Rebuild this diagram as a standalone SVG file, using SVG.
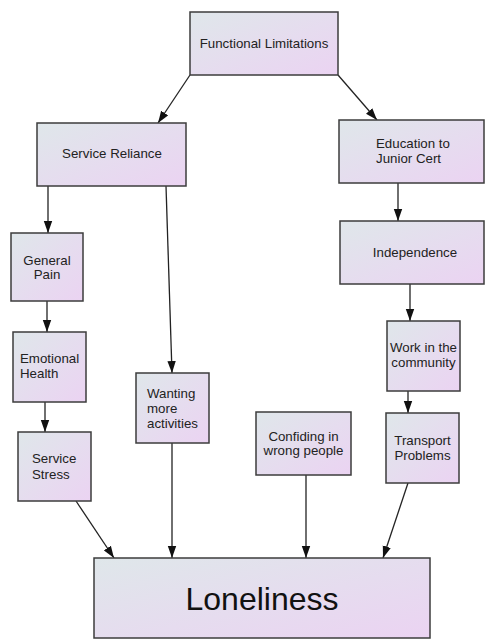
<svg xmlns="http://www.w3.org/2000/svg" width="485" height="639" viewBox="0 0 485 639">
  <defs>
    <linearGradient id="fill" x1="0" y1="0" x2="1" y2="1">
      <stop offset="0" stop-color="#dfe7ea"/>
      <stop offset="0.55" stop-color="#e6dcef"/>
      <stop offset="1" stop-color="#ebd3f2"/>
    </linearGradient>
    <marker id="arrow" viewBox="0 0 12 10" refX="12" refY="5" markerWidth="12" markerHeight="10" markerUnits="userSpaceOnUse" orient="auto">
      <path d="M0,0.8 L12,5 L0,9.2 z" fill="#111"/>
    </marker>
  </defs>
  <style>
    .box { fill: url(#fill); stroke: #3c3c3c; stroke-width: 1.5; }
    .lbl { font-family: "Liberation Sans", Arial, sans-serif; font-size: 13.3px; fill: #222; }
    .big { font-family: "Liberation Sans", Arial, sans-serif; font-size: 32px; fill: #111; text-anchor: middle; }
    .mid { text-anchor: middle; }
    .edge { stroke: #222; stroke-width: 1.3; fill: none; marker-end: url(#arrow); }
  </style>
  <rect width="485" height="639" fill="#fff"/>

  <g id="connectors">
    <line class="edge" x1="190" y1="75" x2="158" y2="123"/>
    <line class="edge" x1="338" y1="75" x2="377" y2="120"/>
    <line class="edge" x1="48" y1="186" x2="48" y2="233"/>
    <line class="edge" x1="166" y1="186" x2="172" y2="373"/>
    <line class="edge" x1="398" y1="183" x2="398" y2="221"/>
    <line class="edge" x1="47" y1="301" x2="47" y2="332"/>
    <line class="edge" x1="410" y1="284" x2="410" y2="321"/>
    <line class="edge" x1="45" y1="402" x2="45" y2="432"/>
    <line class="edge" x1="408" y1="391" x2="408" y2="413"/>
    <line class="edge" x1="76" y1="501" x2="114" y2="558"/>
    <line class="edge" x1="172" y1="443" x2="172" y2="558"/>
    <line class="edge" x1="306" y1="475" x2="306" y2="558"/>
    <line class="edge" x1="408" y1="483" x2="383" y2="558"/>
  </g>

  <g id="functional-limitations">
    <rect class="box" x="190" y="12" width="148" height="63"/>
    <text class="lbl mid" x="264" y="48">Functional Limitations</text>
  </g>

  <g id="service-reliance">
    <rect class="box" x="37" y="123" width="149" height="63"/>
    <text class="lbl mid" x="112" y="158">Service Reliance</text>
  </g>

  <g id="education">
    <rect class="box" x="339" y="120" width="145" height="63"/>
    <text class="lbl" x="376" y="148">Education to</text>
    <text class="lbl" x="376" y="163">Junior Cert</text>
  </g>

  <g id="general-pain">
    <rect class="box" x="11" y="233" width="72" height="68"/>
    <text class="lbl mid" x="47" y="265">General</text>
    <text class="lbl mid" x="47" y="279">Pain</text>
  </g>

  <g id="independence">
    <rect class="box" x="340" y="221" width="144" height="63"/>
    <text class="lbl mid" x="415" y="257">Independence</text>
  </g>

  <g id="emotional-health">
    <rect class="box" x="13" y="332" width="73" height="70"/>
    <text class="lbl" x="20" y="363">Emotional</text>
    <text class="lbl" x="20" y="378">Health</text>
  </g>

  <g id="work-in-the-community">
    <rect class="box" x="387" y="321" width="73" height="70"/>
    <text class="lbl mid" x="423.5" y="352">Work in the</text>
    <text class="lbl mid" x="423.5" y="367">community</text>
  </g>

  <g id="wanting-more-activities">
    <rect class="box" x="136" y="373" width="73" height="70"/>
    <text class="lbl" x="147" y="398">Wanting</text>
    <text class="lbl" x="147" y="413">more</text>
    <text class="lbl" x="147" y="428">activities</text>
  </g>

  <g id="confiding">
    <rect class="box" x="256" y="412" width="95" height="63"/>
    <text class="lbl mid" x="303.5" y="441">Confiding in</text>
    <text class="lbl mid" x="303.5" y="455">wrong people</text>
  </g>

  <g id="service-stress">
    <rect class="box" x="18" y="432" width="73" height="69"/>
    <text class="lbl" x="32" y="463">Service</text>
    <text class="lbl" x="32" y="479">Stress</text>
  </g>

  <g id="transport-problems">
    <rect class="box" x="386" y="413" width="73" height="70"/>
    <text class="lbl mid" x="422.5" y="445">Transport</text>
    <text class="lbl mid" x="422.5" y="460">Problems</text>
  </g>

  <g id="loneliness">
    <rect class="box" x="94" y="558" width="336" height="80"/>
    <text class="big" x="262" y="610">Loneliness</text>
  </g>
</svg>
